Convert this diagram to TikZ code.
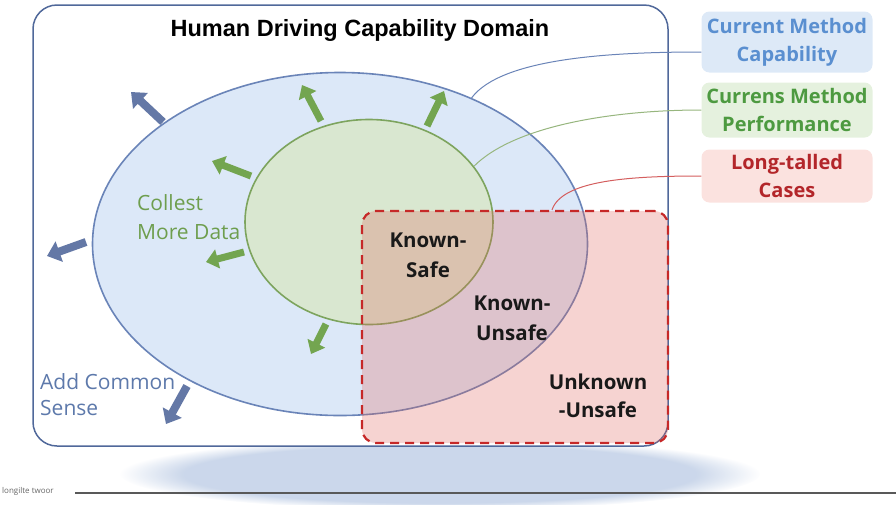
\documentclass[tikz,border=0pt]{standalone}
\usepackage{fontspec}
\setmainfont{Open Sans}
\newfontfamily\titlefont{Liberation Sans}
\usetikzlibrary{shapes.geometric, arrows.meta, fadings}

\definecolor{frameblue}{HTML}{50689A}
\definecolor{ellblue}{HTML}{6A84B8}
\definecolor{ellfill}{HTML}{DCE8F8}
\definecolor{ellgreen}{HTML}{7DA45E}
\definecolor{greenfill}{HTML}{D9E7D0}
\definecolor{arrblue}{HTML}{6478A6}
\definecolor{arrgreen}{HTML}{73A550}
\definecolor{datagreen}{HTML}{6E9E4E}
\definecolor{sensblue}{HTML}{5D79AB}
\definecolor{redline}{HTML}{C62828}
\definecolor{redfill}{HTML}{E0645A}
\definecolor{capfill}{HTML}{DDE9F7}
\definecolor{captext}{HTML}{5A8FD0}
\definecolor{perffill}{HTML}{E5F1DE}
\definecolor{perftext}{HTML}{4D9A40}
\definecolor{longfill}{HTML}{FBE2DF}
\definecolor{longtext}{HTML}{B3262A}
\definecolor{bandblue}{HTML}{A9BDDD}

\begin{document}
\begin{tikzpicture}[x=1pt, y=-1pt,
  lbl/.style={align=center, inner sep=0pt, font=\bfseries\fontsize{20.5}{30}\selectfont},
  keybox/.style={rounded corners=8pt, align=center, inner sep=0pt, minimum width=171pt, font=\bfseries\fontsize{20}{28}\selectfont},
  bluearr/.style={-{Triangle[length=13pt, width=21pt]}, line width=8pt, draw=arrblue},
  greenarr/.style={-{Triangle[length=12pt, width=19pt]}, line width=7pt, draw=arrgreen}]

\useasboundingbox (0,0) rectangle (896,504);

\fill [bandblue, opacity=0.6, path fading=circle with fuzzy edge 20 percent] (440,474) ellipse (320 and 36);
\draw [frameblue, line width=1.5pt, fill=white, rounded corners=24pt] (33,5) rectangle (668,446);
\draw [black!65, line width=1.4pt] (75,493) -- (896,493);
\node (14) [anchor=west, inner sep=0pt, text=black!60, font=\fontsize{8}{8}\selectfont] at (2,491) {longilte twoor};

\node (1) [ellipse, draw=ellblue, fill=ellfill, line width=1.6pt, minimum width=495pt, minimum height=343pt, inner sep=0pt] at (340,244) {};
\node (2) [ellipse, draw=ellgreen, fill=greenfill, line width=1.6pt, minimum width=248pt, minimum height=205pt, inner sep=0pt] at (369,222) {};
\node (3) [draw=redline, line width=2.2pt, dash pattern=on 9pt off 6pt, fill=redfill, fill opacity=0.28, rounded corners=14pt, minimum width=306pt, minimum height=232pt] at (515,327) {};

\draw [bluearr] (163,122) -- (131,92);
\draw [bluearr] (86,242) -- (47,256);
\draw [bluearr] (187,386) -- (166,424);

\draw [greenarr] (321,121) -- (302,85);
\draw [greenarr] (427,126) -- (444,91);
\draw [greenarr] (251,176) -- (212,161);
\draw [greenarr] (244,252) -- (206,262);
\draw [greenarr] (326,324) -- (311,354);

\node (7) [inner sep=0pt, font=\titlefont\bfseries\fontsize{23.5}{28}\selectfont] at (360,30) {Human Driving Capability Domain};
\node (8) [lbl, align=left, anchor=west, text=datagreen, font=\mdseries\fontsize{21}{29}\selectfont] at (137,217) {Collest\\More Data};
\node (9) [lbl, align=left, anchor=west, text=sensblue, font=\mdseries\fontsize{21}{26}\selectfont] at (40,395) {Add Common\\Sense};
\node (10) [lbl, text=black!90] at (428,255) {Known-\\Safe};
\node (11) [lbl, text=black!90] at (512,318) {Known-\\Unsafe};
\node (12) [lbl, text=black!90, font=\bfseries\fontsize{20.5}{28}\selectfont] at (598,396) {Unknown\\-Unsafe};

\node (4) [keybox, fill=capfill, text=captext, minimum height=61pt] at (787,42) {Current Method\\Capability};
\node (5) [keybox, fill=perffill, text=perftext, minimum height=55pt] at (787,110) {Currens Method\\Performance};
\node (6) [keybox, fill=longfill, text=longtext, minimum height=53pt] at (787,176) {Long-talled\\Cases};

\draw [ellblue, line width=1pt] (1.48) .. controls +(30,-40) and +(-90,0) .. ([yshift=-10pt]4.west);
\draw [ellgreen!80, line width=1pt] (2.28) .. controls +(40,-40) and +(-90,0) .. (5.west);
\draw [redline!75, line width=1pt] ([xshift=37pt]3.north) .. controls +(10,-30) and +(-70,0) .. (6.west);

\end{tikzpicture}
\end{document}
